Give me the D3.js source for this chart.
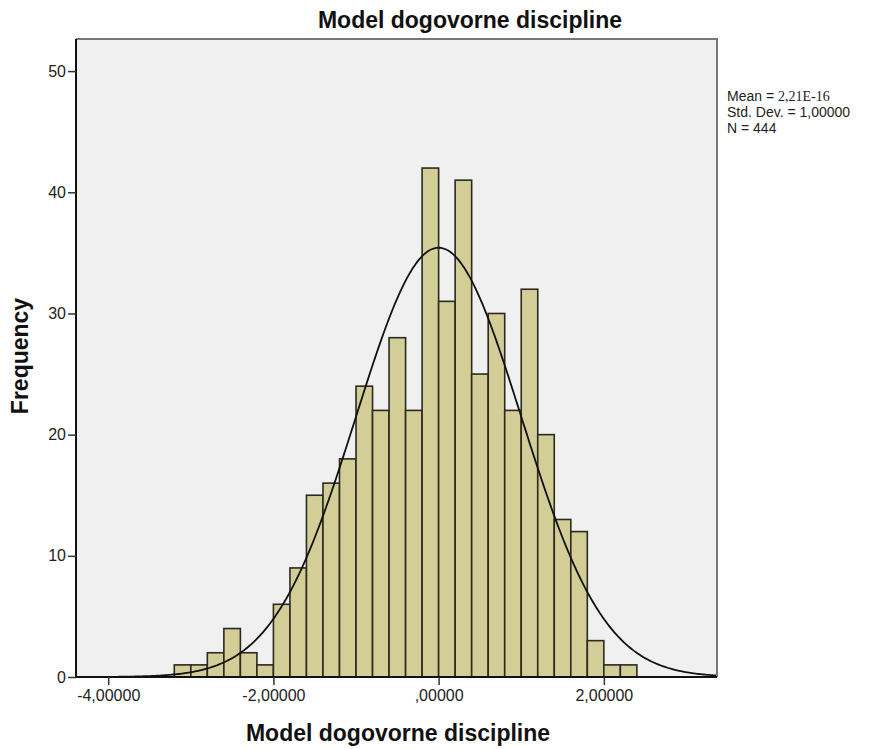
<!DOCTYPE html>
<html><head><meta charset="utf-8">
<script src="https://cdn.jsdelivr.net/npm/d3@7"></script>
<style>body{margin:0;background:#fff;} text{font-family:"Liberation Sans",Arial,sans-serif;}</style>
</head><body><svg id="c" width="883" height="749"></svg>
<script>
const binStart = -3.2, binWidth = 0.2;
const counts = [1,1,2,4,2,1,6,9,15,16,18,24,22,28,22,42,31,41,25,30,22,32,20,13,12,3,1,1];
const xTicks = [-4,-2,0,2];
const xTickLabels = ["-4,00000","-2,00000",",00000","2,00000"];
const yTicks = [0,10,20,30,40,50];
const stats = {mean:"2,21E-16", sd:"1,00000", n:444};
const meanVal = 0, sdVal = 1, N = 444;

const svg = d3.select("#c");
const L=76, R=717, T=39, B=677;
const x = d3.scaleLinear().domain([-4.39, 3.37]).range([L,R]);
const y = d3.scaleLinear().domain([0, 52.65]).range([B,T]);

svg.append("rect").attr("x",L).attr("y",T).attr("width",R-L).attr("height",B-T).attr("fill","#f0f0f0");

const bins = counts.map((c,i)=>({x0:binStart+i*binWidth, x1:binStart+(i+1)*binWidth, c}));
svg.append("g").selectAll("rect").data(bins).join("rect")
  .attr("x",d=>x(d.x0)).attr("width",d=>x(d.x1)-x(d.x0))
  .attr("y",d=>y(d.c)).attr("height",d=>y(0)-y(d.c))
  .attr("fill","#d3ce97").attr("stroke","#2a2a1e").attr("stroke-width",1.6);

const pdf = v => Math.exp(-0.5*((v-meanVal)/sdVal)**2)/(sdVal*Math.sqrt(2*Math.PI));
const xs = d3.range(x.domain()[0], x.domain()[1]+0.001, 0.02);
svg.append("path").datum(xs)
  .attr("d", d3.line().x(v=>x(v)).y(v=>y(N*binWidth*pdf(v))))
  .attr("fill","none").attr("stroke","#111").attr("stroke-width",1.8);

svg.append("path").attr("d",`M${L},${T}H${R}V${B}`).attr("fill","none").attr("stroke","#777").attr("stroke-width",2);

const yAxis = svg.append("g").attr("transform",`translate(${L},0)`)
  .call(d3.axisLeft(y).tickValues(yTicks).tickSize(8).tickPadding(2).tickFormat(d3.format("d")));
const xAxis = svg.append("g").attr("transform",`translate(0,${B})`)
  .call(d3.axisBottom(x).tickValues(xTicks).tickSize(8).tickPadding(5).tickFormat((d,i)=>xTickLabels[i]));
[yAxis,xAxis].forEach(a=>{
  a.select(".domain").attr("stroke","#111").attr("stroke-width",2);
  a.selectAll(".tick line").attr("stroke","#333").attr("stroke-width",1.5);
  a.selectAll(".tick text").attr("font-size",16).attr("fill","#222").attr("font-family","Liberation Sans, Arial, sans-serif");
});
yAxis.select(".domain").attr("d",`M0,${B}V${T}`);
xAxis.select(".domain").attr("d",`M${L},0H${R}`);

svg.append("text").attr("x",470).attr("y",28).attr("text-anchor","middle")
  .attr("font-size",23).attr("font-weight","bold").attr("fill","#111").text("Model dogovorne discipline");
svg.append("text").attr("x",398).attr("y",741).attr("text-anchor","middle")
  .attr("font-size",23).attr("font-weight","bold").attr("fill","#111").text("Model dogovorne discipline");
svg.append("text").attr("transform",`translate(28,${356}) rotate(-90)`).attr("text-anchor","middle")
  .attr("font-size",23).attr("font-weight","bold").attr("fill","#111").text("Frequency");

const lg = svg.append("g").attr("font-size",14).attr("fill","#222");
const t1 = lg.append("text").attr("x",727).attr("y",101);
t1.append("tspan").text("Mean = ");
t1.append("tspan").attr("font-family","Liberation Serif, serif").attr("font-size",14).text(stats.mean);
lg.append("text").attr("x",727).attr("y",117).text("Std. Dev. = " + stats.sd);
lg.append("text").attr("x",727).attr("y",133).text("N = " + stats.n);
</script></body></html>
